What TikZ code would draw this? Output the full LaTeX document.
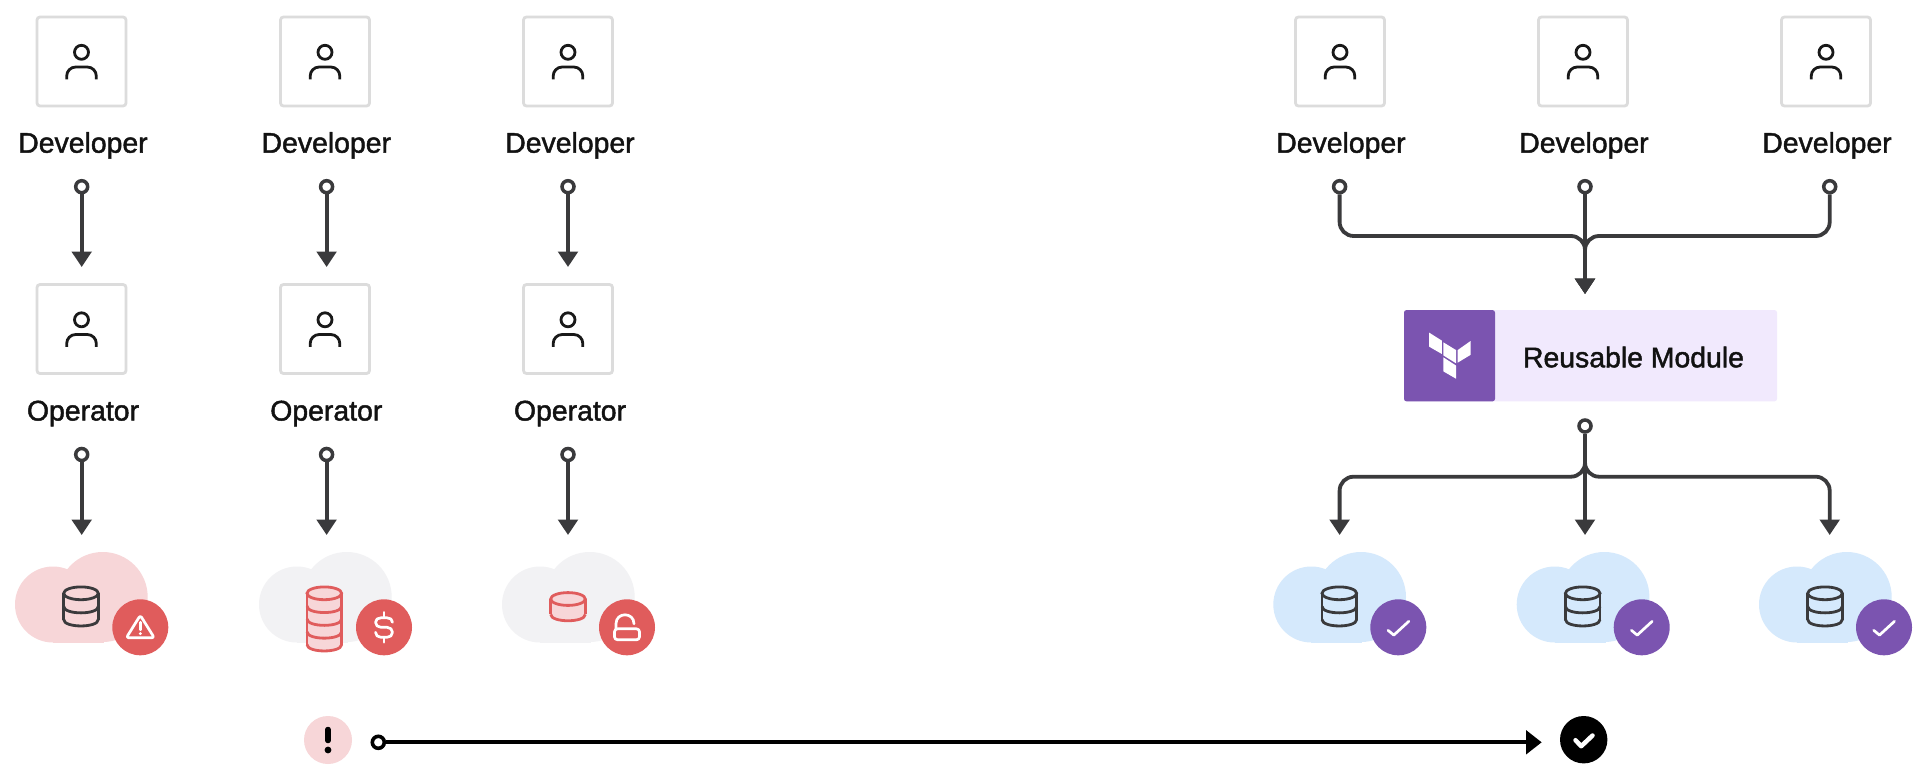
\documentclass[tikz,border=0pt]{standalone}
\usepackage{fontspec}
\setmainfont{Liberation Sans}
\usetikzlibrary{arrows.meta,calc}
\newcommand{\heavy}[1]{\special{pdf:code 2 Tr 0.45 w}#1\special{pdf:code 0 Tr}}
\definecolor{ink}{HTML}{3A3A3C}
\definecolor{boxline}{HTML}{DCDCDC}
\definecolor{cloudpink}{HTML}{F7D6D8}
\definecolor{cloudgray}{HTML}{F2F2F4}
\definecolor{cloudblue}{HTML}{D5E9FC}
\definecolor{badgered}{HTML}{E05C5C}
\definecolor{tfpurple}{HTML}{7B54B0}
\definecolor{tflight}{HTML}{F1E9FD}
\tikzset{
  userbox/.style={draw=boxline,line width=2.8pt,rounded corners=3pt,minimum size=89pt,inner sep=0pt,fill=white},
  lbl/.style={anchor=base,inner sep=0pt,text=black!93,font=\fontsize{28.4}{32}\selectfont},
  port/.style={circle,draw=ink,fill=white,line width=3.5pt,minimum size=12pt,inner sep=0pt},
  conn/.style={draw=ink,line width=3.8pt,-{Triangle[length=15.5pt,width=19.5pt]}},
  badge/.style={circle,minimum size=56pt,inner sep=0pt},
  icon/.style={white,line width=2.7pt,line cap=round,line join=round},
  person/.pic={
    \draw[black!90,line width=2.8pt] (0,-9.2) circle[radius=7];
    \draw[black!90,line width=2.8pt,rounded corners=9pt] (-14.8,17.8) -- (-14.8,5.5) -- (14.8,5.5) -- (14.8,17.8);
  },
}
\newcommand{\cloudat}[2]{%
  \begin{scope}[shift={(#1,0)}]
    \fill[#2] (53,604.5) circle[radius=38];
    \fill[#2] (102.7,597) circle[radius=45];
    \fill[#2] (53,590) rectangle (104,642.5);
  \end{scope}}
\newcommand{\dbstack}[6]{%
  \begin{scope}[shift={(#1,#2)},line width=2.8pt]
    \path[fill=#6] (-17.3,0) -- (-17.3,#3*#4) .. controls (-17.3,#3*#4+8.6) and (17.3,#3*#4+8.6) .. (17.3,#3*#4) -- (17.3,0) .. controls (17.3,-8.6) and (-17.3,-8.6) .. (-17.3,0) -- cycle;
    \draw[#5] (0,0) circle[x radius=17.3,y radius=6.4];
    \draw[#5] (-17.3,0) -- (-17.3,#3*#4) (17.3,0) -- (17.3,#3*#4);
    \foreach \k in {1,...,#3} {
      \draw[#5] (-17.3,\k*#4) .. controls (-17.3,\k*#4+8.6) and (17.3,\k*#4+8.6) .. (17.3,\k*#4);
    }
  \end{scope}}
\newcommand{\checkicon}[1]{%
  \draw[icon] ($(#1)+(-10.3,3)$) -- ($(#1)+(-4.5,7.8)$) -- ($(#1)+(10.5,-6)$);}
\begin{document}
\begin{tikzpicture}[x=1pt,y=-1pt]
\useasboundingbox (0,0) rectangle (1932,784);
\fill[white] (0,0) rectangle (1932,784);

% --- left columns: boxes, labels
\foreach \n/\bx/\tx in {a/81.5/83,b/325/326.3,c/568/570}{
  \node[userbox] (dev\n) at (\bx,61.5) {};
  \pic at (dev\n) {person};
  \node[lbl] (devt\n) at (\tx,152.7) {\heavy{Developer}};
  \node[userbox] (op\n) at (\bx,329) {};
  \pic at (op\n) {person};
  \node[lbl] (opt\n) at (\tx,420.5) {\heavy{Operator}};
}
% --- left columns: connectors
\foreach \n/\cx in {a/81.7,b/326.6,c/568}{
  \node[port] (pd\n) at (\cx,186.7) {};
  \coordinate (td\n) at (\cx,267);
  \draw[conn] (pd\n) -- (td\n);
  \node[port] (po\n) at (\cx,454.5) {};
  \coordinate (to\n) at (\cx,535);
  \draw[conn] (po\n) -- (to\n);
}
% --- left clouds
\cloudat{0}{cloudpink}
\dbstack{81}{593.3}{2}{13.1}{ink}{none}
\node[badge,fill=badgered] (bwarn) at (140.3,627.3) {};
\begin{scope}[shift={(bwarn)}]
  \draw[icon,rounded corners=2.5pt] (0,-12) -- (14,10.5) -- (-14,10.5) -- cycle;
  \draw[icon] (0,-5) -- (0,2.5);
  \fill[white] (0,6.3) circle[radius=1.6];
\end{scope}

\cloudat{244}{cloudgray}
\dbstack{324.3}{593.3}{4}{12.8}{badgered}{cloudpink}
\node[badge,fill=badgered] (bcost) at (384,627.3) {};
\begin{scope}[shift={(bcost)}]
  \draw[icon] (8.5,-5) .. controls (8.5,-8) and (6,-9.5) .. (3,-9.5) -- (-3,-9.5) .. controls (-6,-9.5) and (-8.5,-8) .. (-8.5,-5) .. controls (-8.5,-2) and (-6,0) .. (-3,0) -- (3,0) .. controls (6,0) and (8.5,2) .. (8.5,5) .. controls (8.5,8) and (6,10) .. (3,10) -- (-3,10) .. controls (-6,10) and (-8.5,8) .. (-8.5,5);
  \draw[icon] (0,-15) -- (0,-9.5) (0,10) -- (0,15);
\end{scope}

\cloudat{487}{cloudgray}
\dbstack{568}{599}{1}{15.3}{badgered}{cloudpink}
\node[badge,fill=badgered] (block) at (627,627.3) {};
\begin{scope}[shift={(block)}]
  \draw[icon,rounded corners=3pt] (-12.5,1.5) rectangle (12.5,12.5);
  \draw[icon] (-11,1.5) -- (-11,-3.5) .. controls (-11,-15.5) and (7,-15.5) .. (7,-3.5);
\end{scope}

% --- right columns
\foreach \n/\bx/\tx in {d/1340/1341,e/1583/1584,f/1826/1827}{
  \node[userbox] (dev\n) at (\bx,61.5) {};
  \pic at (dev\n) {person};
  \node[lbl] (devt\n) at (\tx,152.7) {\heavy{Developer}};
}
\node[port] (pdd) at (1339.6,186.7) {};
\node[port] (pde) at (1585,186.7) {};
\node[port] (pdf) at (1829.7,186.7) {};
\coordinate (merge) at (1585,236);
\coordinate (mergetip) at (1585,294);
\draw[conn] (pde) -- (mergetip);
\draw[conn,rounded corners=14pt] (pdd) |- (merge) -- (mergetip);
\draw[conn,rounded corners=14pt] (pdf) |- (merge) -- (mergetip);

% --- module
\node[fill=tflight,rounded corners=2.5pt,minimum width=373pt,minimum height=91.3pt,inner sep=0pt] (module) at (1590.5,355.7) {};
\node[fill=tfpurple,rounded corners=2.5pt,minimum width=91pt,minimum height=91.3pt,inner sep=0pt] (tfmark) at (1449.5,355.7) {};
\node[lbl] (modt) at (1633.5,367.3) {\heavy{Reusable Module}};
\begin{scope}[shift={(0,170)},yscale=0.968]
\fill[white] (1429.1,168) -- (1441.9,176.3) -- (1441.9,190.1) -- (1429.1,182.5) -- cycle;
\fill[white] (1443.3,178) -- (1456,186) -- (1456,199.7) -- (1443.3,191.5) -- cycle;
\fill[white] (1457.7,186) -- (1470.5,176.7) -- (1470.5,191) -- (1457.7,199) -- cycle;
\fill[white] (1443.3,193.5) -- (1456,202) -- (1456,215.6) -- (1443.3,208) -- cycle;
\end{scope}

% --- fan out
\node[port] (pm) at (1585,426) {};
\coordinate (split) at (1585,476.7);
\coordinate (tipd) at (1339.6,535);
\coordinate (tipe) at (1585,535);
\coordinate (tipf) at (1829.7,535);
\draw[conn] (pm) -- (tipe);
\draw[conn,rounded corners=14pt] (pm) -- (split) -- (tipd |- split) -- (tipd);
\draw[conn,rounded corners=14pt] (pm) -- (split) -- (tipf |- split) -- (tipf);

% --- right clouds
\foreach \n/\off in {d/1258.3,e/1501.7,f/1744}{
  \cloudat{\off}{cloudblue}
  \dbstack{81+\off}{593.3}{2}{13.1}{ink}{none}
  \node[badge,fill=tfpurple] (bok\n) at ({140.3-0.3+\off},627.3) {};
  \checkicon{bok\n}
}

% --- bottom arrow
\node[circle,fill=cloudpink,minimum size=48pt,inner sep=0pt] (bad) at (328,740) {};
\draw[black,line width=5.5pt,line cap=round] (328,729.5) -- (328,740.5);
\fill[black] (328,750) circle[radius=3.4];
\node[port,draw=black,line width=3.6pt,minimum size=12pt] (pb) at (378.3,742.3) {};
\coordinate (pe) at (1541.7,742.3);
\draw[black,line width=4pt,-{Triangle[length=15.7pt,width=23.4pt]}] (pb) -- (pe);
\node[circle,fill=black,minimum size=47.4pt,inner sep=0pt] (good) at (1583.7,739.7) {};
\draw[white,line width=4.5pt,line cap=round,line join=round] ($(good)+(-8.2,0.5)$) -- ($(good)+(-2.5,6.5)$) -- ($(good)+(8.8,-4.2)$);
\end{tikzpicture}
\end{document}
